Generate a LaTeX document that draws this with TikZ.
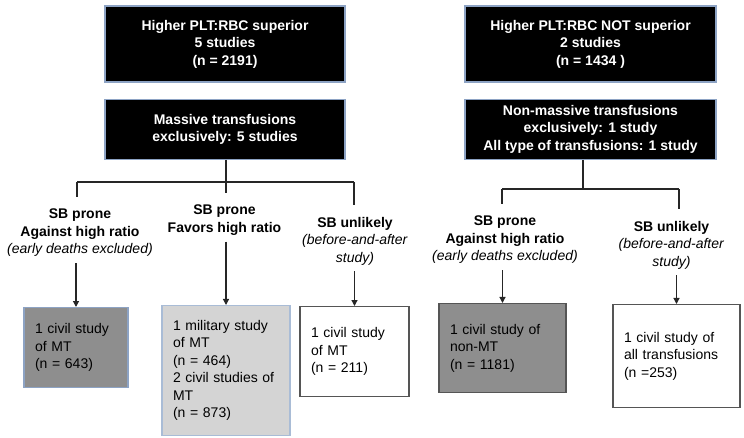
\documentclass[tikz,border=0pt]{standalone}
\usepackage{fontspec}
\setmainfont{Liberation Sans}
\usetikzlibrary{arrows.meta, positioning}
\definecolor{edgeblue}{HTML}{8DA3C4}
\definecolor{lightedge}{HTML}{A9BCD6}
\definecolor{darkfill}{HTML}{8E8E8E}
\definecolor{lightfill}{HTML}{D4D4D4}
\definecolor{boxedge}{HTML}{555555}

\begin{document}
\begin{tikzpicture}[x=1pt, y=-1pt, >={Triangle[length=6pt, width=6pt]},
    font=\fontsize{14}{17.5}\selectfont,
    headbox/.style={draw=edgeblue, line width=1.2pt, fill=black, text=white, font=\fontsize{14}{17.5}\selectfont\bfseries, align=center},
    sblabel/.style={align=center, anchor=north, inner xsep=0pt, inner ysep=6pt},
    studybox/.style={draw=boxedge, line width=1.2pt, fill=white, align=left, anchor=north, inner xsep=11pt},
    link/.style={draw=black!85, line width=1.2pt}]
    \useasboundingbox (0,0) rectangle (744,438);

    % top row
    \node[headbox, minimum width=240pt, minimum height=76pt] (supL) at (225,44) {Higher PLT:RBC superior\\5 studies\\(n = 2191)};
    \node[headbox, minimum width=240pt, minimum height=60pt, below=16pt of supL] (massL) {Massive transfusions\\exclusively: 5 studies};
    \node[headbox, minimum width=251pt, minimum height=76pt] (supR) at (590.5,44) {Higher PLT:RBC NOT superior\\2 studies\\(n = 1434 )};
    \node[headbox, minimum width=251pt, minimum height=60pt, below=16pt of supR] (massR) {Non-massive transfusions\\exclusively: 1 study\\All type of transfusions: 1 study};

    % bias labels
    \node[sblabel] (pA) at (80,203) {\textbf{SB prone}\\\textbf{Against high ratio}\\\textit{(early deaths excluded)}};
    \node[sblabel] (pB) at (224.5,199) {\textbf{SB prone}\\\textbf{Favors high ratio}};
    \node[sblabel] (pC) at (355,211) {\textbf{SB unlikely}\\\textit{(before-and-after}\\\textit{study)}};
    \node[sblabel] (pD) at (505,210) {\textbf{SB prone}\\\textbf{Against high ratio}\\\textit{(early deaths excluded)}};
    \node[sblabel] (pE) at (671.5,215) {\textbf{SB unlikely}\\\textit{(before-and-after}\\\textit{study)}};

    % study boxes
    \node[studybox, draw=edgeblue, fill=darkfill, text width=82pt, minimum height=80pt] (boxA) at (76,307) {1 civil study\\of MT\\(n = 643)};
    \node[studybox, draw=lightedge, fill=lightfill, text width=106pt, minimum height=130pt] (boxB) at (226,305) {1 military study\\of MT\\(n = 464)\\2 civil studies of\\MT\\(n = 873)};
    \node[studybox, text width=87pt, minimum height=90pt] (boxC) at (354.5,306) {1 civil study\\of MT\\(n = 211)};
    \node[studybox, fill=darkfill, text width=105pt, minimum height=89pt] (boxD) at (502.5,303) {1 civil study of\\non-MT\\(n = 1181)};
    \node[studybox, text width=105pt, minimum height=103pt] (boxE) at (676.5,304) {1 civil study of\\all transfusions\\(n =253)};

    % branch points
    \coordinate (jL) at (226,182);
    \coordinate (barLa) at (77,182);
    \coordinate (barLc) at (354,182);
    \coordinate (jR) at (583,189);
    \coordinate (barRa) at (502,189);
    \coordinate (barRb) at (679,189);

    \draw[link] (jL |- massL.south) -- (jL);
    \draw[link] (barLa) -- (barLc);
    \draw[link, shorten >=6pt] (barLa) -- (barLa |- pA.north);
    \draw[link, shorten >=6pt] (jL) -- (jL |- pB.north);
    \draw[link, shorten >=6pt] (barLc) -- (barLc |- pC.north);
    \draw[link] (jR |- massR.south) -- (jR);
    \draw[link] (barRa) -- (barRb);
    \draw[link, shorten >=6pt] (barRa) -- (barRa |- pD.north);
    \draw[link, shorten >=6pt] (barRb) -- (barRb |- pE.north);

    \draw[link, ->] (boxA.north |- pA.south) -- (boxA.north);
    \draw[link, ->] (boxB.north |- pB.south) -- (boxB.north);
    \draw[link, ->] (boxC.north |- pC.south) -- (boxC.north);
    \draw[link, ->] (boxD.north |- pD.south) -- (boxD.north);
    \draw[link, ->] (boxE.north |- pE.south) -- (boxE.north);
\end{tikzpicture}
\end{document}
